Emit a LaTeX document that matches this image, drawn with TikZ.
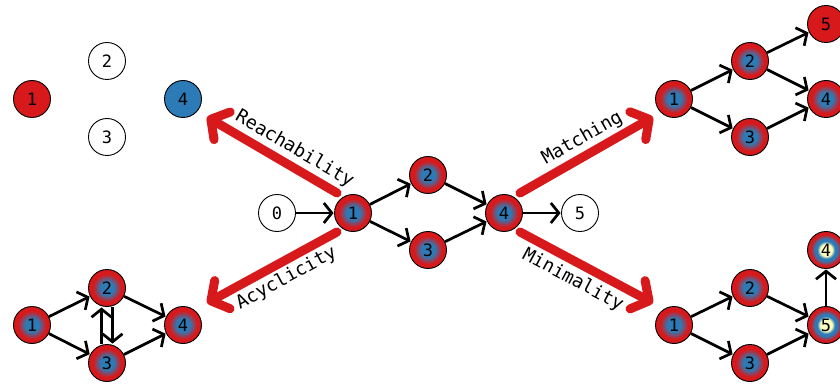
\documentclass[tikz,border=0pt]{standalone}
\usepackage{fontspec}
\setmainfont{DejaVu Sans Mono}
\usetikzlibrary{arrows.meta}
\definecolor{cbred}{HTML}{D7191C}
\definecolor{cbblue}{HTML}{2C7BB6}
\definecolor{cbyellow}{HTML}{FFFFBF}
\pgfdeclareradialshading{bluered}{\pgfpoint{0bp}{0bp}}{color(0bp)=(cbblue); color(9bp)=(cbblue); color(19bp)=(cbred); color(25bp)=(cbred); color(50bp)=(cbred)}
\pgfdeclareradialshading{yellowbluered}{\pgfpoint{0bp}{0bp}}{color(0bp)=(cbyellow); color(8bp)=(cbyellow); color(12bp)=(cbblue); color(15bp)=(cbblue); color(21bp)=(cbred); color(25bp)=(cbred); color(50bp)=(cbred)}
\tikzset{
  vtx/.style={circle, draw=black, line width=0.9pt, minimum size=37pt, inner sep=0pt, font=\fontsize{17}{17}\selectfont},
  plain/.style={vtx, fill=white},
  redv/.style={vtx, fill=cbred},
  bluev/.style={vtx, fill=cbblue},
  grad/.style={vtx, shading=bluered},
  gradY/.style={vtx, shading=yellowbluered},
  edge/.style={line width=2.7pt, -{Straight Barb[length=8pt,width=20pt]}, shorten >=0.5pt},
  big/.style={line width=9pt, cbred, line cap=round, -{Straight Barb[length=13pt,width=32pt,round]}},
  lbl/.style={text=black, font=\fontsize{18.5}{18.5}\selectfont, sloped, inner sep=1pt}
}
\begin{document}
\begin{tikzpicture}[x=1pt,y=1pt]
\useasboundingbox (0,0) rectangle (840,386);
% top-left
\node[redv] (a1) at (32,287) {1};
\node[plain] (a2) at (107,325) {2};
\node[plain] (a3) at (107,249) {3};
\node[bluev] (a4) at (183,287) {4};
% center
\node[plain] (c0) at (277,173) {0};
\node[grad] (c1) at (353,173) {1};
\node[grad] (c2) at (428,211) {2};
\node[grad] (c3) at (428,136) {3};
\node[grad] (c4) at (504,173) {4};
\node[plain] (c5) at (580,173) {5};
\draw[edge] (c0) -- (c1);
\draw[edge] (c1) -- (c2);
\draw[edge] (c1) -- (c3);
\draw[edge] (c2) -- (c4);
\draw[edge] (c3) -- (c4);
\draw[edge] (c4) -- (c5);
% top-right
\node[grad] (m1) at (674,287) {1};
\node[grad] (m2) at (750,325) {2};
\node[grad] (m3) at (750,249) {3};
\node[grad] (m4) at (826,287) {4};
\node[redv] (m5) at (826,362) {5};
\draw[edge] (m1) -- (m2);
\draw[edge] (m1) -- (m3);
\draw[edge] (m2) -- (m4);
\draw[edge] (m3) -- (m4);
\draw[edge] (m2) -- (m5);
% bottom-right
\node[grad] (n1) at (674,61) {1};
\node[grad] (n2) at (750,98) {2};
\node[grad] (n3) at (750,23) {3};
\node[gradY] (n5) at (826,61) {5};
\node[gradY] (n4) at (826,136) {4};
\draw[edge] (n1) -- (n2);
\draw[edge] (n1) -- (n3);
\draw[edge] (n2) -- (n5);
\draw[edge] (n3) -- (n5);
\draw[edge] (n5) -- (n4);
% bottom-left
\node[grad] (b1) at (32,61) {1};
\node[grad] (b2) at (107,98) {2};
\node[grad] (b3) at (107,23) {3};
\node[grad] (b4) at (183,61) {4};
\draw[edge] (b1) -- (b2);
\draw[edge] (b1) -- (b3);
\draw[edge] (b2) -- (b4);
\draw[edge] (b3) -- (b4);
\draw[edge] ([xshift=5.5pt]b2.south) -- ([xshift=5.5pt]b3.north);
\draw[edge] ([xshift=-5.5pt]b3.north) -- ([xshift=-5.5pt]b2.south);
% big arrows
\coordinate (s1) at (337,193);
\coordinate (t1) at (207,269);
\coordinate (s2) at (337,154);
\coordinate (t2) at (207,83);
\coordinate (s3) at (520,193);
\coordinate (t3) at (653,269);
\coordinate (s4) at (520,154);
\coordinate (t4) at (653,83);
\draw[big] (s1) -- node[lbl, pos=0.39, above=2pt] {Reachability} (t1);
\draw[big] (s2) -- node[lbl, pos=0.45, below=2pt] {Acyclicity} (t2);
\draw[big] (s3) -- node[lbl, pos=0.53, above=2pt] {Matching} (t3);
\draw[big] (s4) -- node[lbl, pos=0.46, below=3pt] {Minimality} (t4);
\end{tikzpicture}
\end{document}
